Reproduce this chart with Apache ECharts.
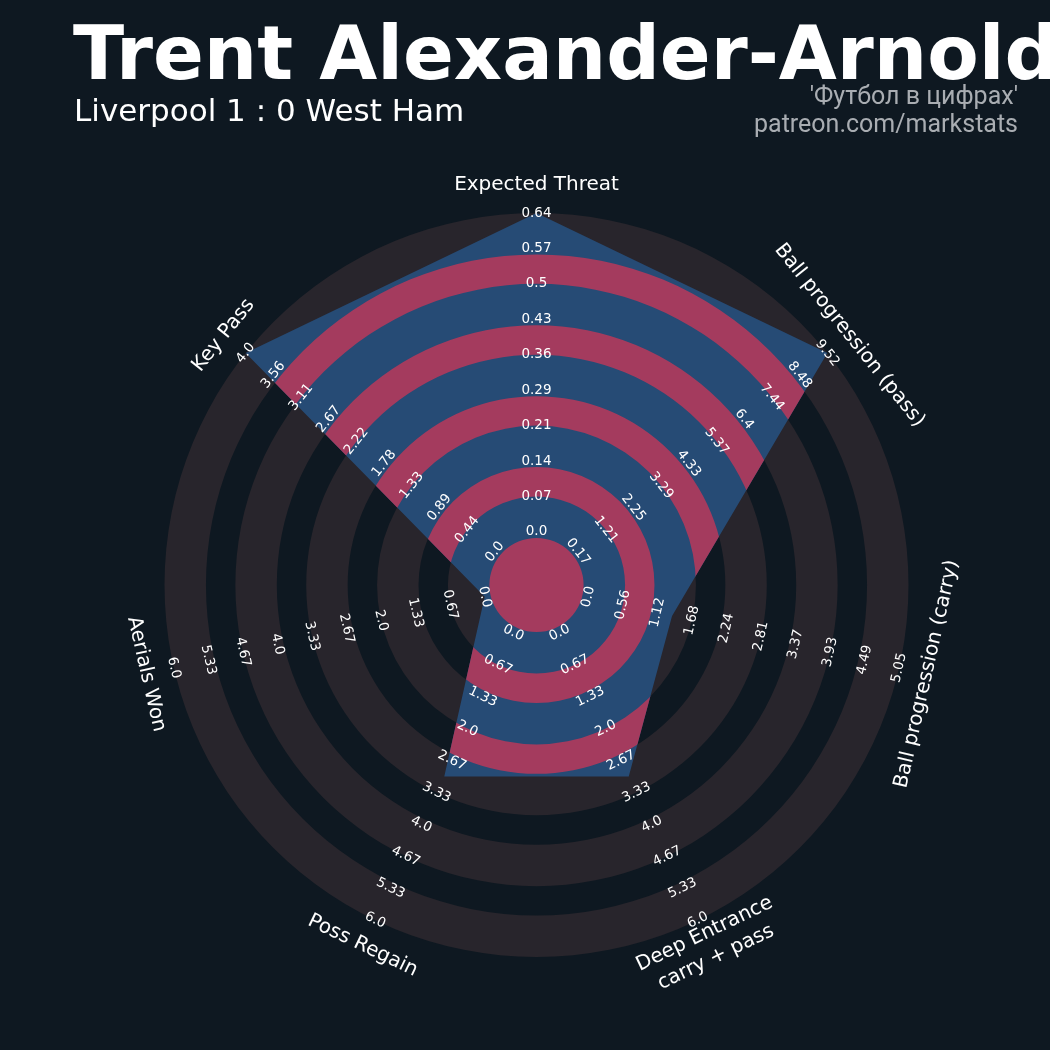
<!DOCTYPE html>
<html><head><meta charset="utf-8">
<script src="https://cdn.jsdelivr.net/npm/echarts@6/dist/echarts.min.js"></script>
<style>html,body{margin:0;padding:0;background:#0e1821;}#c{width:1050px;height:1050px;}</style>
</head><body><div id="c"></div>
<script>
// ---- data ----
const params = ['Expected Threat', 'Ball progression (pass)', 'Ball progression (carry)', 'Deep Entrance\ncarry + pass', 'Poss Regain', 'Aerials Won', 'Key Pass'];
const values = [0.64, 9.52, 1.36, 3.0, 3.0, 0.0, 4.0];
const minRange = [0, 0.17, 0, 0, 0, 0, 0];
const maxRange = [0.64, 9.52, 5.05, 6, 6, 6, 4];
const tickLabels = [
  ['0.0', '0.07', '0.14', '0.21', '0.29', '0.36', '0.43', '0.5', '0.57', '0.64'],
  ['0.17', '1.21', '2.25', '3.29', '4.33', '5.37', '6.4', '7.44', '8.48', '9.52'],
  ['0.0', '0.56', '1.12', '1.68', '2.24', '2.81', '3.37', '3.93', '4.49', '5.05'],
  ['0.0', '0.67', '1.33', '2.0', '2.67', '3.33', '4.0', '4.67', '5.33', '6.0'],
  ['0.0', '0.67', '1.33', '2.0', '2.67', '3.33', '4.0', '4.67', '5.33', '6.0'],
  ['0.0', '0.67', '1.33', '2.0', '2.67', '3.33', '4.0', '4.67', '5.33', '6.0'],
  ['0.0', '0.44', '0.89', '1.33', '1.78', '2.22', '2.67', '3.11', '3.56', '4.0']
];
const titleText = 'Trent Alexander-Arnold';
const subtitleText = 'Liverpool 1 : 0 West Ham';
const creditLines = ["'Футбол в цифрах'", 'patreon.com/markstats'];

// ---- styles / geometry ----
const BG = '#0e1821', RING = '#28252c', BLUE = '#264b75', PINK = '#a43b5e';
const N = params.length, STEP = 360 / N;
const R_MIN = 1.5, R_MAX = 10.5, RING_IN = 0.17, NAME_R = 11.3;
const angleOf = i => i * STEP;
const toUnits = (i, v) => {
  const t = Math.max(0, Math.min(1, (v - minRange[i]) / (maxRange[i] - minRange[i])));
  return R_MIN + t * (R_MAX - R_MIN);
};
const grayBands = [], pinkBands = [];
for (let j = 0; j < 5; j++) {
  grayBands.push([R_MIN - RING_IN + 2 * j, R_MIN + 1 + 2 * j]);
  pinkBands.push([j === 0 ? 0 : R_MIN + 1 + 2 * (j - 1), R_MIN - RING_IN + 2 * j]);
}
function textRot(i) {
  let r = (90 - angleOf(i)) - 90;
  r = ((r + 180) % 360 + 360) % 360 - 180;
  if (r > 90) r -= 180;
  if (r < -90) r += 180;
  return r * Math.PI / 180;
}
const radarData = values.map((v, i) => [toUnits(i, v), angleOf(i)]);
const tickData = [], tickMeta = [];
tickLabels.forEach((labs, i) => labs.forEach((t, k) => { tickData.push([R_MIN + k, angleOf(i)]); tickMeta.push({ text: t, i }); }));
const nameData = params.map((p, i) => [NAME_R, angleOf(i)]);

function helpers(api) {
  const c = api.coord([0, 0]);
  const rad = u => { const p = api.coord([u, 0]); return Math.hypot(p[0] - c[0], p[1] - c[1]); };
  return { c, rad };
}

const chart = echarts.init(document.getElementById('c'), null, { renderer: 'canvas' });
chart.setOption({
  backgroundColor: BG,
  animation: false,
  polar: { center: [536.5, 585], radius: 372 },
  radiusAxis: { type: 'value', min: 0, max: R_MAX, show: false },
  angleAxis: { type: 'value', min: 0, max: 360, startAngle: 90, clockwise: true, show: false },
  graphic: [
    { type: 'text', x: 73, y: 60, style: { text: titleText, fill: '#ffffff', font: 'bold 75px "DejaVu Sans"', align: 'left', verticalAlign: 'middle' } },
    { type: 'text', x: 74, y: 113, style: { text: subtitleText, fill: '#ffffff', font: '31px "DejaVu Sans"', align: 'left', verticalAlign: 'middle' } },
    { type: 'text', x: 1018, y: 98, style: { text: creditLines[0], fill: '#a9adb2', font: '25px Roboto', align: 'right', verticalAlign: 'middle' } },
    { type: 'text', x: 1018, y: 126, style: { text: creditLines[1], fill: '#a9adb2', font: '25px Roboto', align: 'right', verticalAlign: 'middle' } }
  ],
  series: [
    {
      type: 'custom', coordinateSystem: 'polar', z: 1, clip: false, silent: true,
      data: grayBands,
      renderItem(p, api) {
        const { c, rad } = helpers(api);
        const b = grayBands[p.dataIndex];
        return { type: 'ring', shape: { cx: c[0], cy: c[1], r0: rad(b[0]), r: rad(b[1]) }, style: { fill: RING } };
      }
    },
    {
      type: 'custom', coordinateSystem: 'polar', z: 2, clip: false, silent: true,
      data: radarData,
      renderItem(p, api) {
        if (p.dataIndex !== 0) return null;
        const { c, rad } = helpers(api);
        const pts = radarData.map(d => api.coord(d));
        return {
          type: 'group', children: [
            { type: 'polygon', shape: { points: pts }, style: { fill: BLUE } },
            {
              type: 'group', clipPath: { type: 'polygon', shape: { points: pts } },
              children: pinkBands.map(b => ({ type: 'ring', shape: { cx: c[0], cy: c[1], r0: rad(b[0]), r: rad(b[1]) }, style: { fill: PINK } }))
            }
          ]
        };
      }
    },
    {
      type: 'custom', coordinateSystem: 'polar', z: 3, clip: false, silent: true,
      data: tickData,
      renderItem(p, api) {
        const m = tickMeta[p.dataIndex];
        const pt = api.coord([api.value(0), api.value(1)]);
        return { type: 'text', x: pt[0], y: pt[1], rotation: textRot(m.i),
          style: { text: m.text, fill: '#ffffff', font: '13.5px "DejaVu Sans"', align: 'center', verticalAlign: 'middle' } };
      }
    },
    {
      type: 'custom', coordinateSystem: 'polar', z: 3, clip: false, silent: true,
      data: nameData,
      renderItem(p, api) {
        const i = p.dataIndex;
        const pt = api.coord([api.value(0), api.value(1)]);
        return { type: 'text', x: pt[0], y: pt[1], rotation: textRot(i),
          style: { text: params[i], fill: '#ffffff', font: '20px "DejaVu Sans"', align: 'center', verticalAlign: 'middle', lineHeight: 26 } };
      }
    }
  ]
});
</script>
</body></html>
